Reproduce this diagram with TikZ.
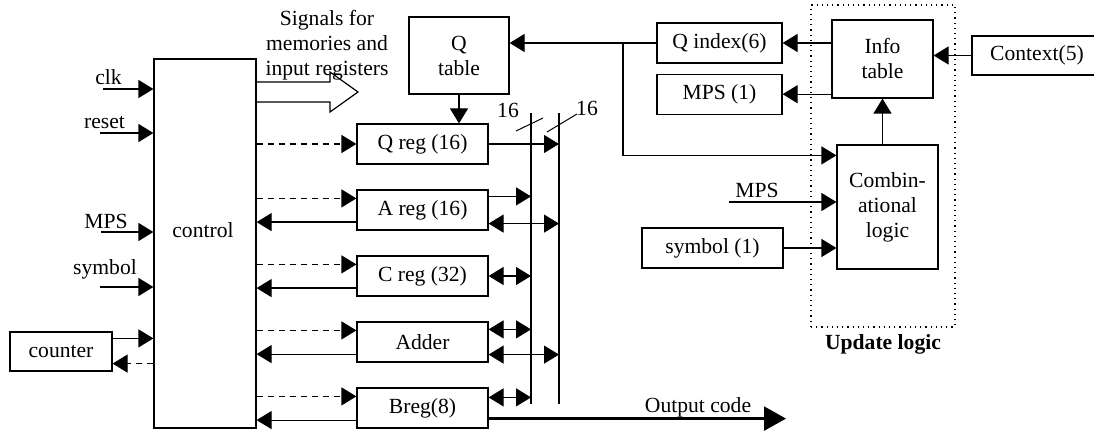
\documentclass[tikz,border=0pt]{standalone}
\usepackage{fontspec}
\setmainfont{Liberation Serif}
\usepackage{tikz}
\usetikzlibrary{arrows.meta, positioning, calc}

\begin{document}
\begin{tikzpicture}[
    x=0.5pt, y=-0.5pt,
    font=\fontsize{10.8}{12.5}\selectfont,
    node distance=12.4pt,
    box/.style={draw, line width=0.6pt, minimum width=65.5pt, minimum height=20pt, inner sep=1pt, align=center},
    txt/.style={inner sep=0pt, anchor=base},
    arr/.style={-{Triangle[length=7.5pt, width=9pt]}, line width=0.6pt},
    darr/.style={-{Triangle[length=7.5pt, width=9pt]}, line width=0.6pt, dash pattern=on 3pt off 2.5pt},
    barr/.style={{Triangle[length=7.5pt, width=9pt]}-{Triangle[length=7.5pt, width=9pt]}, line width=0.6pt},
    bus/.style={line width=1.4pt},
]
\useasboundingbox (0,0) rectangle (1094,433);

% Control unit and its inputs
\node[box, minimum width=51pt, minimum height=184.5pt] (ctrl) at (205,243.5) {};
\node[txt] (ctrltxt) at (203,238) {control};
\node[box, minimum width=51pt, minimum height=19.5pt] (counter) at (61,351.5) {counter};

\coordinate (clkin) at (103,89);
\coordinate (rstin) at (100,133);
\coordinate (mpsin) at (101,232);
\coordinate (symin) at (100,287);
\draw[arr] (clkin) -- (clkin -| ctrl.west);
\draw[arr] (rstin) -- (rstin -| ctrl.west);
\draw[arr] (mpsin) -- (mpsin -| ctrl.west);
\draw[arr] (symin) -- (symin -| ctrl.west);
\node[txt] (clklbl) at (108.5,85) {clk};
\node[txt] (rstlbl) at (104.5,129) {reset};
\node[txt] (mpslbl) at (106,228) {MPS};
\node[txt] (symlbl) at (105,275) {symbol};

\coordinate (cnt1) at ([yshift=-3.5pt]counter.north east);
\coordinate (cnt2) at ([yshift=4pt]counter.south east);
\draw[arr] (cnt1) -- (cnt1 -| ctrl.west);
\draw[darr] (cnt2 -| ctrl.west) -- (cnt2);

% Hollow arrow for memory signals
\draw[line width=0.6pt] (ctrl.east |- 0,82) -- (330,82) -- (330,72) -- (358,92) -- (330,112) -- (330,102) -- (ctrl.east |- 0,102);
\node[align=center, inner sep=0pt] (sigtxt) at (327,45) {Signals for\\memories and\\input registers};

% Registers
\node[box, minimum width=50pt, minimum height=38.5pt] (qtab) at (459,55.5) {Q\\table};
\node[box] (qreg) at (422.5,144) {Q reg (16)};
\node[box, below=of qreg] (areg) {A reg (16)};
\node[box, below=of areg] (creg) {C reg (32)};
\node[box, below=of creg] (addr) {Adder};
\node[box, below=of addr] (breg) {Breg(8)};

\draw[arr] (qtab.south) -- (qtab.south |- qreg.north);
\draw[darr] (ctrl.east |- qreg.west) -- (qreg.west);
\foreach \r in {areg,creg,addr,breg}{
  \coordinate (t) at ([yshift=-4.5pt]\r.north west);
  \coordinate (b) at ([yshift=4.25pt]\r.south west);
  \draw[darr] (ctrl.east |- t) -- (t);
  \draw[arr] (b) -- (ctrl.east |- b);
}

% Buses
\coordinate (busa) at (531,113);
\coordinate (busb) at (559,113);
\draw[bus] (busa) -- ++(0,291);
\draw[bus] (busb) -- ++(0,291);
\draw[line width=0.5pt] (516,131) -- (543,118);
\draw[line width=0.5pt] (547,132) -- (577,114);
\node (w1) at (508,110) {16};
\node (w2) at (587,108) {16};

\draw[arr] (qreg.east) -- (qreg.east -| busb);
\coordinate (a1) at ([yshift=-3.5pt]areg.north east);
\coordinate (a2) at ([yshift=3.5pt]areg.south east);
\draw[arr] (a1) -- (a1 -| busa);
\draw[barr] (a2) -- (a2 -| busb);
\draw[barr] (creg.east) -- (creg.east -| busa);
\coordinate (d1) at ([yshift=-4pt]addr.north east);
\coordinate (d2) at ([yshift=4pt]addr.south east);
\draw[barr] (d1) -- (d1 -| busa);
\draw[barr] (d2) -- (d2 -| busb);
\coordinate (b1) at ([yshift=-5pt]breg.north east);
\coordinate (b2) at ([yshift=5pt]breg.south east);
\draw[barr] (b1) -- (b1 -| busa);
\coordinate (outc) at (786,418);
\draw[-{Triangle[length=11pt, width=12pt]}, line width=1.2pt] (b2) -- (b2 -| outc);
\node[txt] (outlbl) at (698,412) {Output code};

% Update logic
\node[draw, dotted, line width=0.6pt, minimum width=72pt, minimum height=161pt,
      label={[font=\fontsize{10.8}{12.5}\selectfont\bfseries]below:Update logic}] (upd) at (883,166) {};
\node[box, minimum width=50.5pt, minimum height=39pt, fill=white] (info) at (882.5,59) {Info\\table};
\node[box, minimum width=50.5pt, minimum height=62pt, fill=white] (comb) at (887.5,207) {Combin-\\ational\\logic};
\node[box, minimum width=62.5pt] (qidx) at (719.5,43) {Q index(6)};
\node[box, minimum width=62.5pt, below=5pt of qidx] (mps1) {MPS (1)};
\node[box, minimum width=65pt, minimum height=19.5pt] (ctx) at (1037,55.5) {Context(5)};
\node[box, minimum width=70.5pt] (sym1) at (712.5,248) {symbol (1)};

\draw[arr] (ctx.west) -- (ctx.west -| info.east);
\draw[arr] (info.west |- qidx.east) -- (qidx.east);
\draw[arr] (info.west |- mps1.east) -- (mps1.east);
\draw[arr] (info.south |- comb.north) -- (info.south);
\draw[arr] (qidx.west) -- (qidx.west -| qtab.east);
\coordinate (br) at (623,43);
\coordinate (c1) at ([yshift=-5.5pt]comb.north west);
\draw[arr] (br) |- (c1);
\coordinate (mpsc) at (729,202);
\draw[arr] (mpsc) -- (mpsc -| comb.west);
\node[txt] (mpsclbl) at (757,198) {MPS};
\draw[arr] (sym1.east) -- (sym1.east -| comb.west);
\end{tikzpicture}
\end{document}
